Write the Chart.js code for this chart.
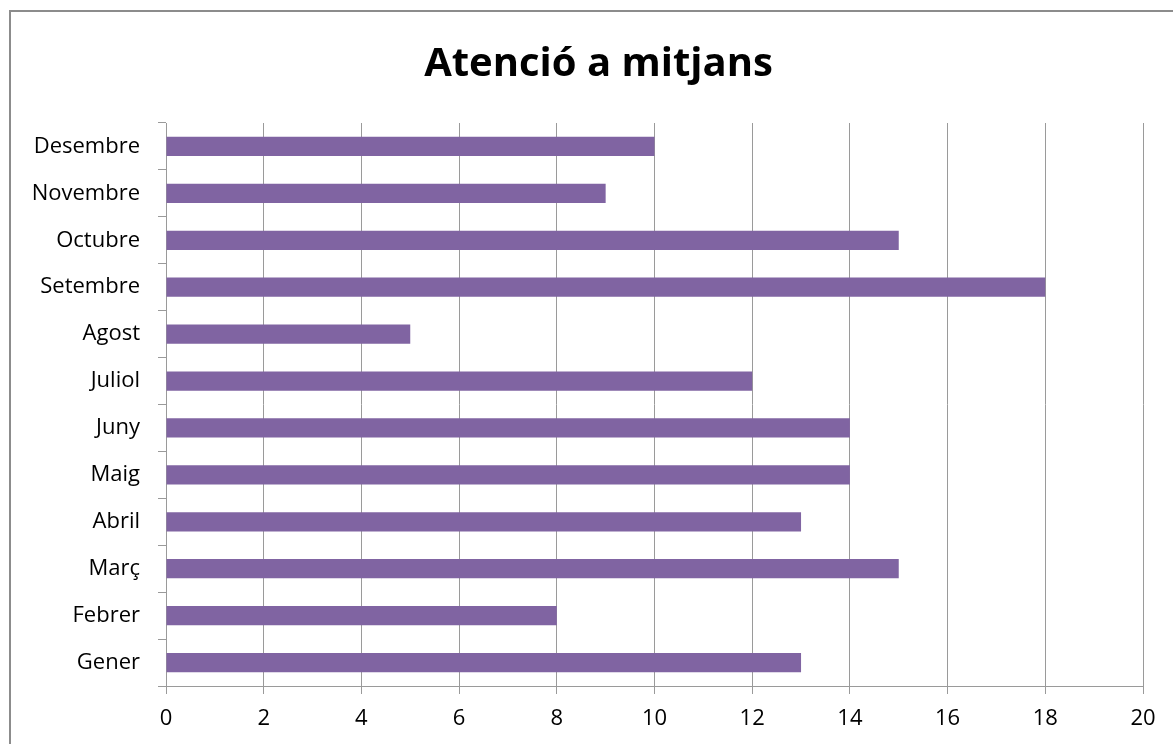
<!DOCTYPE html>
<html>
<head>
<meta charset="utf-8">
<script src="https://cdn.jsdelivr.net/npm/chart.js@4"></script>
<style>
    body { margin: 0; background: #fff; }
    #wrap { width: 1173px; height: 744px; }
</style>
</head>
<body>
<div id="wrap"><canvas id="mitjansChart"></canvas></div>
<script>
const months = ['Gener', 'Febrer', 'Març', 'Abril', 'Maig', 'Juny', 'Juliol', 'Agost', 'Setembre', 'Octubre', 'Novembre', 'Desembre'];
const atencions = [13, 8, 15, 13, 14, 14, 12, 5, 18, 15, 9, 10];
const xMin = 0;
const xMax = 20;
const xStep = 2;

const fontFamily = '"Open Sans", sans-serif';

// outer frame of the chart sheet + title centred on the frame
const framePlugin = {
    id: 'frame',
    afterLayout(chart) {
        if (chart.titleBlock) {
            chart.titleBlock.left = 54;
        }
    },
    beforeDraw(chart) {
        const c = chart.ctx;
        c.save();
        c.fillStyle = '#ffffff';
        c.fillRect(0, 0, chart.width, chart.height);
        c.strokeStyle = '#8c8c8c';
        c.lineWidth = 2;
        c.strokeRect(10, 11, chart.width + 20, chart.height + 20);
        c.restore();
    }
};

const ctx = document.getElementById('mitjansChart');

new Chart(ctx, {
    type: 'bar',
    data: {
        labels: months,
        datasets: [{
            data: atencions,
            backgroundColor: '#8064A2',
            borderWidth: 0,
            barPercentage: 0.41,
            categoryPercentage: 1
        }]
    },
    options: {
        indexAxis: 'y',
        responsive: true,
        maintainAspectRatio: false,
        animation: false,
        layout: {
            padding: { left: 0, right: 30, top: 0, bottom: 0 }
        },
        plugins: {
            legend: { display: false },
            tooltip: { enabled: false },
            title: {
                display: true,
                text: 'Atenció a mitjans',
                color: '#000000',
                font: { family: fontFamily, size: 40, weight: 'bold' },
                padding: { top: 41, bottom: 34 }
            }
        },
        scales: {
            x: {
                min: xMin,
                max: xMax,
                ticks: {
                    stepSize: xStep,
                    color: '#000000',
                    font: { family: fontFamily, size: 22 },
                    padding: 12
                },
                grid: {
                    color: '#9a9a9a',
                    lineWidth: 1,
                    tickLength: 8
                },
                border: { color: '#9a9a9a' },
                afterFit(scale) { scale.height = 58; }
            },
            y: {
                reverse: true,
                ticks: {
                    color: '#000000',
                    font: { family: fontFamily, size: 22 },
                    padding: 18
                },
                grid: {
                    drawOnChartArea: false,
                    color: '#9a9a9a',
                    tickLength: 8
                },
                border: { color: '#9a9a9a' },
                afterFit(scale) { scale.width = 166; }
            }
        }
    },
    plugins: [framePlugin]
});
</script>
</body>
</html>
